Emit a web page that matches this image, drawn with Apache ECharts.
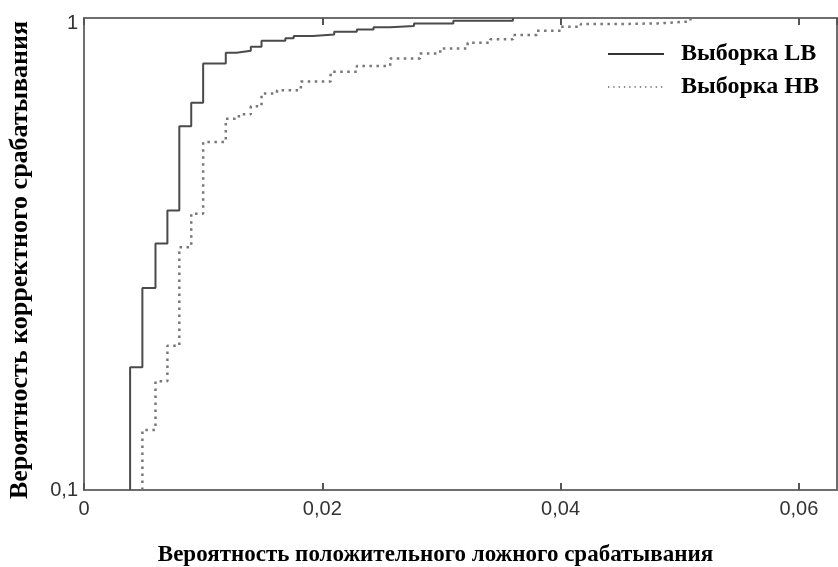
<!DOCTYPE html>
<html><head><meta charset="utf-8">
<script src="https://cdn.jsdelivr.net/npm/echarts@6/dist/echarts.min.js"></script>
<style>html,body{margin:0;padding:0;background:#fff}#c{width:838px;height:567px}</style>
</head><body><div id="c"></div>
<script>
// Data (false positive rate vs. true positive rate)
const seriesNames = ['Выборка LB', 'Выборка HB'];
const fprLB = [0.00387, 0.00387, 0.0049, 0.0060, 0.0070, 0.0080, 0.0090, 0.0100, 0.0119, 0.0128, 0.0140, 0.0149, 0.0169, 0.0176, 0.0192, 0.0210, 0.0229, 0.0243, 0.0257, 0.0277, 0.0310, 0.0360];
const tprLB = [0.1, 0.182, 0.268, 0.333, 0.391, 0.590, 0.661, 0.801, 0.844, 0.852, 0.869, 0.895, 0.906, 0.916, 0.923, 0.935, 0.946, 0.956, 0.962, 0.974, 0.987, 1.0];
const fprHB = [0.0049, 0.0049, 0.0060, 0.0070, 0.0080, 0.0090, 0.0100, 0.0119, 0.0130, 0.0140, 0.0149, 0.0162, 0.0182, 0.0207, 0.0229, 0.0257, 0.0282, 0.0299, 0.0322, 0.0341, 0.0360, 0.0380, 0.0400, 0.0417, 0.0450, 0.0481, 0.0509];
const tprHB = [0.1, 0.134, 0.170, 0.202, 0.327, 0.385, 0.546, 0.612, 0.625, 0.650, 0.692, 0.703, 0.734, 0.769, 0.791, 0.821, 0.841, 0.862, 0.886, 0.901, 0.920, 0.940, 0.958, 0.971, 0.974, 0.983, 1.0];
const xTickLabels = ['0', '0,02', '0,04', '0,06'];
const yTickLabels = ['0,1', '1'];
const xTitle = 'Вероятность положительного ложного срабатывания';
const yTitle = 'Вероятность корректного срабатывания';

const xMin = 0, xMax = 0.0632, xStep = 0.02;
const serif = {fontFamily: 'Liberation Serif', fontWeight: 'bold', color: '#000'};

function xFmt(v) {
  const k = Math.round(v / xStep);
  if (Math.abs(v - k * xStep) > 1e-9) return '';
  return xTickLabels[k] || '';
}
function yFmt(v) {
  return v >= 0.99 ? '{t|' + yTickLabels[1] + '}' : yTickLabels[0];
}

const chart = echarts.init(document.getElementById('c'), null, {renderer: 'canvas'});
chart.setOption({
  animation: false,
  backgroundColor: '#fff',
  grid: {left: 84, top: 18, right: 1, bottom: 77, outerBoundsMode: 'none', containLabel: false,
         show: true, borderColor: '#6e6e6e', borderWidth: 2},
  legend: {
    orient: 'vertical', left: 602, top: 37, itemWidth: 56, itemHeight: 14, itemGap: 9,
    itemStyle: {opacity: 0},
    data: [
      {name: seriesNames[0], lineStyle: {color: '#333', width: 2, type: 'solid'}},
      {name: seriesNames[1], lineStyle: {color: '#666', width: 1.3, type: [1.3, 4]}}
    ],
    textStyle: Object.assign({}, serif, {fontSize: 24, padding: [0, 0, 0, 12]})
  },
  xAxis: [
    {type: 'value', min: xMin, max: xMax, interval: xStep, position: 'bottom',
     axisLine: {show: false}, splitLine: {show: false},
     axisTick: {inside: true, length: 7, lineStyle: {color: '#555', width: 2}},
     axisLabel: {formatter: xFmt, showMaxLabel: false, fontFamily: 'Liberation Sans', fontSize: 20, color: '#333', margin: 9},
     name: xTitle, nameLocation: 'middle', nameGap: 54,
     nameTextStyle: Object.assign({}, serif, {fontSize: 23, padding: [0, 50, 0, 0]})},
    {type: 'value', min: xMin, max: xMax, interval: xStep, position: 'top',
     axisLine: {show: false}, splitLine: {show: false},
     axisTick: {inside: true, length: 7, lineStyle: {color: '#555', width: 2}},
     axisLabel: {show: false}}
  ],
  yAxis: {
    type: 'log', logBase: 10, min: 0.1, max: 1,
    axisLine: {show: false}, axisTick: {show: false}, splitLine: {show: false},
    axisLabel: {formatter: yFmt, fontFamily: 'Liberation Sans', fontSize: 20, color: '#333', margin: 6,
      rich: {t: {fontFamily: 'Liberation Sans', fontSize: 20, color: '#333', padding: [10, 0, 0, 0]}}},
    name: yTitle, nameLocation: 'middle', nameGap: 51,
    nameTextStyle: Object.assign({}, serif, {fontSize: 26, padding: [0, 12, 0, 0]})
  },
  series: [
    {name: seriesNames[0], type: 'line', step: 'end', symbol: 'none', xAxisIndex: 0,
     color: '#4a4a4a',
     data: fprLB.map((x, i) => [x, tprLB[i]]),
     lineStyle: {color: '#4a4a4a', width: 2}},
    {name: seriesNames[1], type: 'line', step: 'end', symbol: 'none', xAxisIndex: 0,
     color: '#777',
     data: fprHB.map((x, i) => [x, tprHB[i]]),
     lineStyle: {color: '#777', width: 2.5, type: [2.5, 4.5]}}
  ]
});
</script></body></html>
